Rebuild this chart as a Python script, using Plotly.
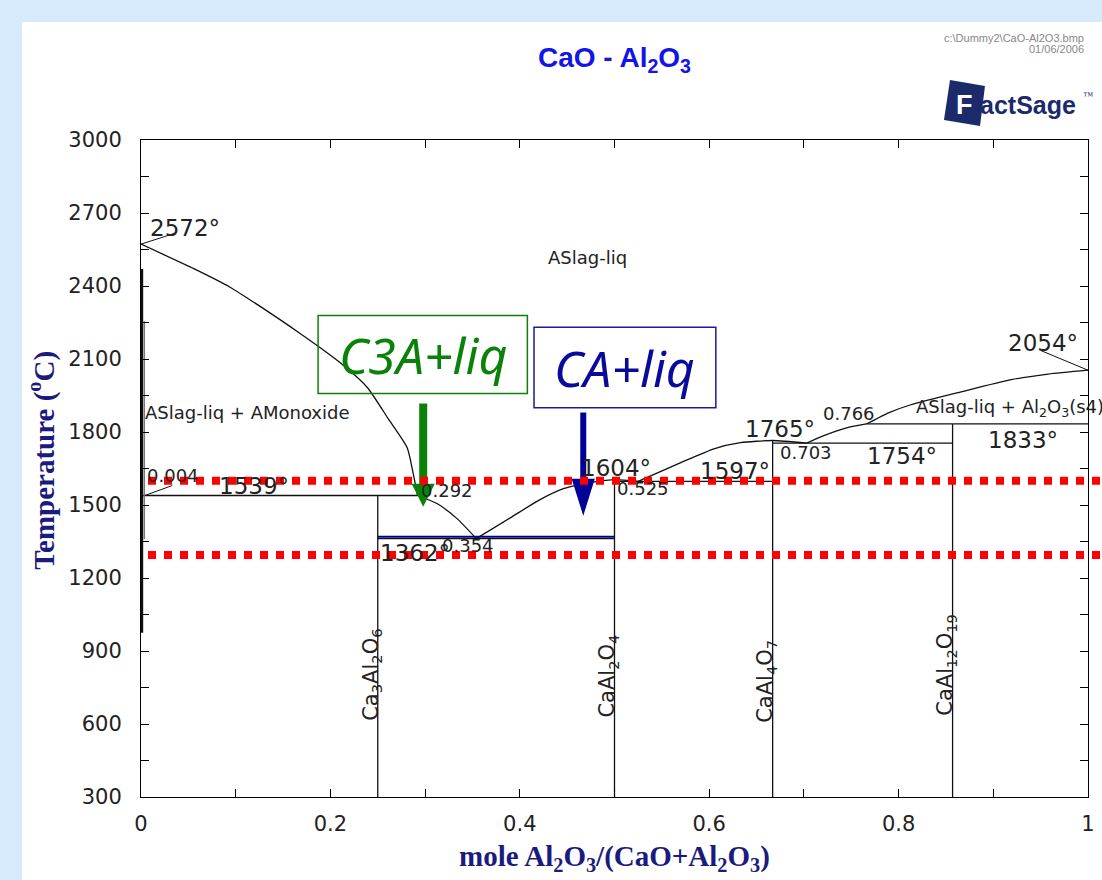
import plotly.graph_objects as go

# ---------------- data ----------------
# liquidus branches (x = mole Al2O3/(CaO+Al2O3), T in deg C)
cao_liq_x = [0.0, 0.059, 0.094, 0.129, 0.168, 0.189, 0.214, 0.239, 0.261, 0.281, 0.2875, 0.292]
cao_liq_T = [2572, 2465, 2395, 2308, 2205, 2147, 2073, 1983, 1855, 1736, 1628, 1539]
c3a_liq_x = [0.292, 0.313, 0.334, 0.354]
c3a_liq_T = [1539, 1505, 1443, 1362]
ca_liq_x = [0.354, 0.390, 0.419, 0.446, 0.467, 0.5, 0.525]
ca_liq_T = [1362, 1447, 1517, 1567, 1587, 1604, 1597]
ca2_liq_x = [0.525, 0.570, 0.605, 0.633, 0.667, 0.703]
ca2_liq_T = [1597, 1674, 1731, 1756, 1765, 1754]
ca6_liq_x = [0.703, 0.721, 0.746, 0.766]
ca6_liq_T = [1754, 1785, 1818, 1833]
al2o3_liq_x = [0.766, 0.79, 0.813, 0.866, 0.919, 0.958, 1.0]
al2o3_liq_T = [1833, 1880, 1912, 1965, 2015, 2038, 2054]

# monoxide solid-solution boundaries near x = 0
monox_x = [0.001, 0.001]
monox_T = [2470, 975]
monox2_x = [0.0035, 0.0035]
monox2_T = [2255, 1360]

# invariant (horizontal) lines
inv_T = [1539, 1362, 1597, 1754, 1833]
inv_xa = [0.0, 0.25, 0.5, 0.667, 0.766]
inv_xb = [0.292, 0.5, 0.667, 0.857, 1.0]

# compounds
cmp_x = [0.25, 0.5, 0.667, 0.857]
cmp_Ttop = [1539, 1604, 1765, 1833]
cmp_names = ["Ca<sub>3</sub>Al<sub>2</sub>O<sub>6</sub>", "CaAl<sub>2</sub>O<sub>4</sub>",
             "CaAl<sub>4</sub>O<sub>7</sub>", "CaAl<sub>12</sub>O<sub>19</sub>"]
cmp_label_T = [801, 797, 776, 842]

# point labels
pt_text = ["2572°", "1539°", "1362°", "1604°", "1597°", "1765°", "1754°", "1833°", "2054°"]
pt_x = [0.0074, 0.080, 0.250, 0.463, 0.588, 0.636, 0.765, 0.892, 0.913]
pt_T = [2638, 1579, 1303, 1653, 1641, 1814, 1703, 1769, 2164]
comp_text = ["0.004", "0.292", "0.354", "0.525", "0.766", "0.703"]
comp_x = [0.004, 0.294, 0.316, 0.501, 0.718, 0.673]
comp_T = [1620, 1559, 1332, 1567, 1876, 1715]

# label leader lines (from point to label)
leader_x = [(0.0, 0.036), (0.004, 0.033), (1.0, 0.950)]
leader_T = [(2572, 2617), (1539, 1580), (2054, 2135)]

# region labels
region_text = ["ASlag-liq", "ASlag-liq + AMonoxide", "ASlag-liq + Al<sub>2</sub>O<sub>3</sub>(s4)"]
region_x = [0.471, 0.002, 0.816]
region_T = [2518, 1880, 1900]
region_anchor = ["center", "left", "left"]

# presenter overlays
highlight_T = [1600, 1295]
ca_iso_T = 1370
x_ticks = [0, 0.2, 0.4, 0.6, 0.8, 1]
T_min, T_max = 300, 3000

# ---------------- figure ----------------
fig = go.Figure()
blk = dict(color="#111111", width=1.3)
blk_curve = dict(color="#111111", width=1.3, shape="spline", smoothing=0.6)


def add_line(xs, ys, line=blk):
    fig.add_trace(go.Scatter(x=xs, y=ys, mode="lines", line=line,
                             hoverinfo="skip", showlegend=False))


for xs, ts in [(cao_liq_x, cao_liq_T), (c3a_liq_x, c3a_liq_T), (ca_liq_x, ca_liq_T),
               (ca2_liq_x, ca2_liq_T), (ca6_liq_x, ca6_liq_T), (al2o3_liq_x, al2o3_liq_T)]:
    add_line(xs, ts, blk_curve)

for T, xa, xb in zip(inv_T, inv_xa, inv_xb):
    add_line([xa, xb], [T, T])

for x, T in zip(cmp_x, cmp_Ttop):
    add_line([x, x], [T_min, T])

add_line(monox_x, monox_T, dict(color="#111111", width=2.5))
add_line(monox2_x, monox2_T, dict(color="#777777", width=1.5))

for (xa, xb), (ta, tb) in zip(leader_x, leader_T):
    add_line([xa, xb], [ta, tb], dict(color="#111111", width=1))

# blue isotherm drawn by the presenter
add_line([cmp_x[0], cmp_x[1]], [ca_iso_T, ca_iso_T], dict(color="#000080", width=2))

ann = []
lab_font = dict(family="DejaVu Sans", size=23, color="#222222")
small_font = dict(family="DejaVu Sans", size=18, color="#222222")
for t, x, T in zip(pt_text, pt_x, pt_T):
    ann.append(dict(x=x, y=T, text=t, showarrow=False, xanchor="left", yanchor="middle", font=lab_font))
for t, x, T in zip(comp_text, comp_x, comp_T):
    ann.append(dict(x=x, y=T, text=t, showarrow=False, xanchor="left", yanchor="middle", font=small_font))
for t, x, T, a in zip(region_text, region_x, region_T, region_anchor):
    ann.append(dict(x=x, y=T, text=t, showarrow=False, xanchor=a, yanchor="middle", font=small_font))
for t, x, T in zip(cmp_names, cmp_x, cmp_label_T):
    ann.append(dict(x=x, y=T, text=t, showarrow=False, textangle=-90, xanchor="center",
                    yanchor="middle", xshift=-6, font=dict(family="DejaVu Sans", size=21, color="#222222")))

# boxes with hand-drawn style labels
hand = dict(family="Noto Sans", size=50, style="italic")
ann.append(dict(x=0.2975, y=2118, text="C3A+liq", showarrow=False, xanchor="center", yanchor="middle",
                font=dict(hand, color="#0a820a")))
ann.append(dict(x=0.511, y=2065, text="CA+liq", showarrow=False, xanchor="center", yanchor="middle",
                font=dict(hand, color="#0a0a9a")))

shapes = []
shapes.append(dict(type="rect", xref="x", yref="y", x0=0.187, x1=0.408, y0=1958, y1=2279,
                   line=dict(color="#0a820a", width=1.5)))
shapes.append(dict(type="rect", xref="x", yref="y", x0=0.415, x1=0.607, y0=1900, y1=2230,
                   line=dict(color="#1a1aa0", width=1.5)))


def arrow(x, t_tail, t_base, t_tip, color, width, half):
    shapes.append(dict(type="line", xref="x", yref="y", x0=x, x1=x, y0=t_tail, y1=t_base - 5,
                       line=dict(color=color, width=width)))
    shapes.append(dict(type="path", xref="x", yref="y",
                       path=f"M {x-half},{t_base} L {x+half},{t_base} L {x},{t_tip} Z",
                       fillcolor=color, line=dict(color=color, width=0)))


arrow(0.298, 1917, 1587, 1493, "#0a820a", 8, 0.0122)
arrow(0.467, 1880, 1608, 1456, "#000099", 6, 0.0122)

# red dotted highlight lines
for T in highlight_T:
    shapes.append(dict(type="line", xref="paper", yref="y", x0=0.0074, x1=1.016, y0=T, y1=T,
                       line=dict(color="#ff0000", width=8, dash="8px,8px")))

# page background (light blue frame) and logo
shapes.append(dict(type="rect", xref="paper", yref="paper", x0=-0.1257, x1=1.1, y0=-0.2, y1=1.1796,
                   fillcolor="white", line=dict(width=0), layer="below"))
shapes.append(dict(type="path", xref="paper", yref="paper",
                   path="M 0.8543,1.0913 L 0.8912,1.0822 L 0.8860,1.0213 L 0.8479,1.0304 Z",
                   fillcolor="#1b2a6b", line=dict(width=0)))
ann.append(dict(xref="paper", yref="paper", x=0.8695, y=1.0540, text="<b>F</b>", showarrow=False,
                xanchor="center", yanchor="middle",
                font=dict(family="Liberation Sans", size=27, color="white")))
ann.append(dict(xref="paper", yref="paper", x=0.8835, y=1.0540, text="<b>actSage</b>", showarrow=False,
                xanchor="left", yanchor="middle",
                font=dict(family="Liberation Sans", size=25, color="#1b2a6b")))
ann.append(dict(xref="paper", yref="paper", x=0.9925, y=1.0680, text="™", showarrow=False,
                xanchor="left", yanchor="middle",
                font=dict(family="Liberation Serif", size=10, color="#1b2a6b")))

# file stamp
ann.append(dict(xref="paper", yref="paper", x=0.998, y=1.1560, text=r"c:\Dummy2\CaO-Al2O3.bmp",
                showarrow=False, xanchor="right", yanchor="middle",
                font=dict(family="Liberation Sans", size=11, color="#888888")))
ann.append(dict(xref="paper", yref="paper", x=0.998, y=1.1390, text="01/06/2006",
                showarrow=False, xanchor="right", yanchor="middle",
                font=dict(family="Liberation Sans", size=11, color="#888888")))

# titles
ann.append(dict(xref="paper", yref="paper", x=0.5, y=1.1218, text="<b>CaO - Al<sub>2</sub>O<sub>3</sub></b>",
                showarrow=False, xanchor="center", yanchor="middle",
                font=dict(family="Liberation Sans", size=28, color="#1414e6")))
ann.append(dict(xref="paper", yref="paper", x=0.5, y=-0.093,
                text="<b>mole Al<sub>2</sub>O<sub>3</sub>/(CaO+Al<sub>2</sub>O<sub>3</sub>)</b>",
                showarrow=False, xanchor="center", yanchor="middle",
                font=dict(family="Liberation Serif", size=29, color="#1b1b7d")))
ann.append(dict(xref="paper", yref="paper", x=-0.1045, y=0.512, text="<b>Temperature (<sup>o</sup>C)</b>",
                showarrow=False, textangle=-90, xanchor="center", yanchor="middle",
                font=dict(family="Liberation Serif", size=29, color="#1b1b7d")))

tick_font = dict(family="DejaVu Sans", size=21, color="#222222")
fig.update_layout(
    width=1102, height=880,
    margin=dict(l=141, r=14, t=140, b=83, autoexpand=False),
    paper_bgcolor="#d6eafb", plot_bgcolor="white",
    showlegend=False,
    annotations=ann, shapes=shapes,
    xaxis=dict(range=[0, 1], tickvals=x_ticks, ticktext=[f"{v:g}" for v in x_ticks],
               ticks="inside", ticklen=8, tickcolor="black", automargin=False,
               minor=dict(dtick=0.1, ticks="inside", ticklen=8, tickcolor="black"),
               showline=True, linecolor="black", linewidth=1, mirror="ticks",
               showgrid=False, zeroline=False, tickfont=tick_font, ticklabelstandoff=8),
    yaxis=dict(range=[T_min, T_max], tick0=0, dtick=300, automargin=False,
               ticks="inside", ticklen=8, tickcolor="black",
               minor=dict(dtick=150, ticks="inside", ticklen=8, tickcolor="black"),
               showline=True, linecolor="black", linewidth=1, mirror="ticks",
               showgrid=False, zeroline=False, tickfont=tick_font, ticklabelstandoff=14),
)

fig.write_html("out.html", config={"displayModeBar": False},
               post_script="document.body.style.margin='0';")
